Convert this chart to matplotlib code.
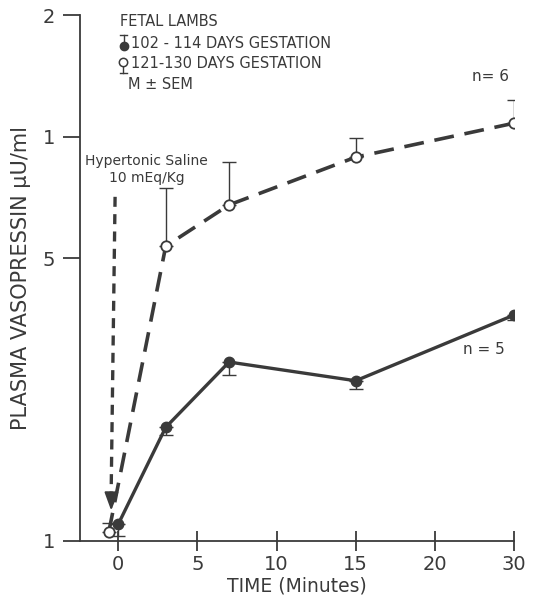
import numpy as np
import matplotlib.pyplot as plt

# time axis is broken: 30 min sits where 25 would be
def tpos(t):
    t = np.asarray(t, dtype=float)
    return np.where(t <= 20, t, 20 + (t - 20) / 2.0)

# 102-114 days gestation (filled, n=5)
t_early = [0, 3, 7, 15, 30]
v_early = [1.10, 1.91, 2.77, 2.49, 3.62]
sem_early = [0.07, 0.08, 0.19, 0.11, 0.11]   # drawn downward

# 121-130 days gestation (open, n=6)
t_late = [-0.6, 3, 7, 15, 30]
v_late = [1.05, 5.36, 6.78, 8.9, 10.8]
sem_late = [0.06, 2.1, 1.9, 1.0, 1.5]        # drawn upward

xticks = [0, 5, 10, 15, 20, 30]
yticks = [1, 5, 10, 20]
ytick_labels = ['1', '5', '1', '2']

ink = '#3a3a3a'
plt.rcParams['font.family'] = 'DejaVu Sans'

fig = plt.figure(figsize=(5.34, 6.01), dpi=100)
ax = fig.add_axes([0.150, 0.100, 0.8125, 0.875])

ax.set_yscale('log')
ax.set_ylim(1, 20)
ax.set_xlim(-2.41, 25)

# error bars (one sided)
z = np.zeros(5)
ax.errorbar(tpos(t_early), v_early, yerr=[sem_early, z], fmt='none',
            ecolor=ink, elinewidth=1.0, capsize=5, capthick=1.0, zorder=2)
ax.errorbar(tpos(t_late), v_late, yerr=[z, sem_late], fmt='none',
            ecolor=ink, elinewidth=1.0, capsize=5, capthick=1.0, zorder=2)

ax.plot(tpos(t_early), v_early, '-', color=ink, lw=2.4, marker='o', ms=7.5,
        mfc=ink, mec=ink, zorder=3)
ax.plot(tpos(t_late), v_late, '--', color=ink, lw=2.6, dashes=(5.5, 3),
        marker='o', ms=7.5, mfc='white', mec=ink, mew=1.3, zorder=3)

# injection arrow
ax.plot([-0.2, -0.45], [7.1, 1.3], '--', color=ink, lw=2.4, dashes=(3, 2.2), zorder=1)
ax.annotate('', xy=(-0.45, 1.17), xytext=(-0.43, 1.32),
            arrowprops=dict(arrowstyle='-|>,head_length=1.1,head_width=0.42',
                            color=ink, lw=1.5))
ax.text(1.8, 8.3, 'Hypertonic Saline\n10 mEq/Kg', ha='center', va='center',
        fontsize=10, color=ink, linespacing=1.3)

ax.text(23.5, 14.1, 'n= 6', ha='center', va='center', fontsize=11, color=ink)
ax.text(23.1, 2.98, 'n = 5', ha='center', va='center', fontsize=11, color=ink)

# legend block
tr = ax.transAxes
ax.text(0.092, 0.987, 'FETAL LAMBS', transform=tr, fontsize=10.5, color=ink, va='center')
ax.text(0.117, 0.945, '102 - 114 DAYS GESTATION', transform=tr, fontsize=10.5, color=ink, va='center')
ax.text(0.117, 0.907, '121-130 DAYS GESTATION', transform=tr, fontsize=10.5, color=ink, va='center')
ax.text(0.110, 0.868, 'M \u00b1 SEM', transform=tr, fontsize=10.5, color=ink, va='center')
ax.plot([0.101, 0.101], [0.941, 0.962], color=ink, lw=1, transform=tr, clip_on=False)
ax.plot([0.093, 0.109], [0.962, 0.962], color=ink, lw=1, transform=tr, clip_on=False)
ax.plot([0.101], [0.941], 'o', ms=6, color=ink, transform=tr, clip_on=False)
ax.plot([0.099, 0.099], [0.889, 0.911], color=ink, lw=1, transform=tr, clip_on=False)
ax.plot([0.091, 0.107], [0.889, 0.889], color=ink, lw=1, transform=tr, clip_on=False)
ax.plot([0.099], [0.911], 'o', ms=6, mfc='white', mec=ink, mew=1.1, transform=tr, clip_on=False)

# axes styling
ax.set_xticks(tpos(xticks))
ax.set_xticklabels([str(x) for x in xticks])
ax.set_yticks(yticks)
ax.set_yticklabels(ytick_labels)
ax.yaxis.set_minor_locator(plt.NullLocator())
ax.tick_params(axis='x', direction='inout', length=14, width=1.3, colors=ink,
               labelsize=14, pad=3)
ax.tick_params(axis='y', direction='out', length=12, width=1.3, colors=ink,
               labelsize=14, pad=6)
for s in ['top', 'right']:
    ax.spines[s].set_visible(False)
for s in ['left', 'bottom']:
    ax.spines[s].set_color(ink)
    ax.spines[s].set_linewidth(1.3)

ax.set_xlabel('TIME (Minutes)', fontsize=13.5, color=ink, labelpad=2)
ax.set_ylabel('PLASMA VASOPRESSIN \u03bcU/ml', fontsize=15, color=ink, labelpad=8)

plt.savefig('out.png', dpi=100)
